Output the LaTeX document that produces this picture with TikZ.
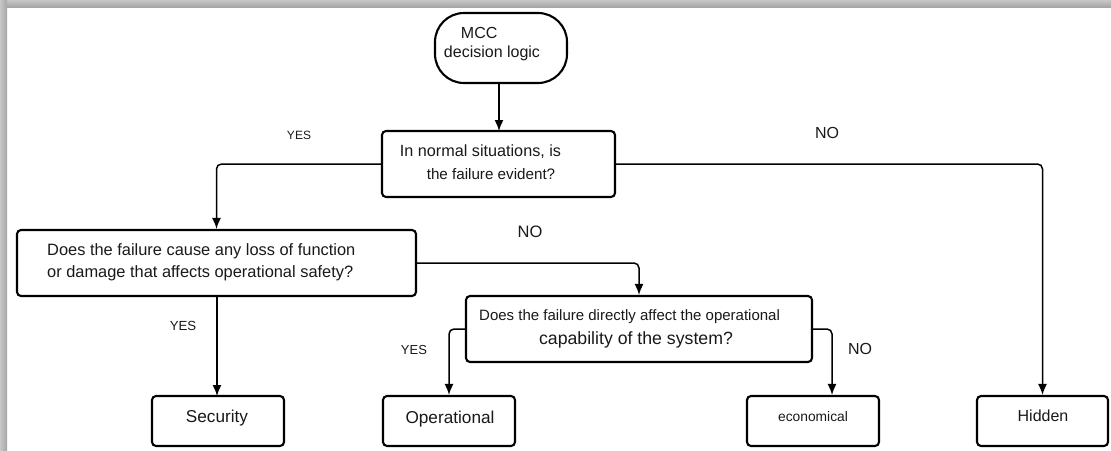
\documentclass[tikz,border=0pt]{standalone}
\usepackage{fontspec}
\setmainfont{Liberation Sans}
\usetikzlibrary{arrows.meta}

\newcommand{\fsz}[1]{\fontsize{#1pt}{#1pt}\selectfont}

\tikzset{
  box/.style={draw, line width=2.1pt, rounded corners=4pt, inner sep=0pt},
  txt/.style={inner sep=0pt, text=black!90},
  conn/.style={line width=1.5pt, rounded corners=5pt,
               -{Latex[length=11pt,width=9pt]}},
  lbl/.style={inner sep=0pt, text=black!90},
}

\begin{document}
\begin{tikzpicture}[x=1pt,y=-1pt]
\useasboundingbox (0,0) rectangle (1111,450);
\fill[white] (0,0) rectangle (1111,450);

% frame shadow along the top and left edges
\shade[top color=black!22, bottom color=black!35] (0,0) rectangle (1111,7);
\shade[left color=black!22, right color=black!35] (0,0) rectangle (7,450);

% start terminal
\node[box, rounded corners=29pt, minimum width=132pt, minimum height=70pt] (mcc) at (501,48) {};
\node[txt, align=left, font=\fsz{16}] (mcctext) at (492,44) {\hspace*{17pt}MCC\\[3pt]decision logic};

% question boxes
\node[box, minimum width=233pt, minimum height=66pt] (q1) at (498.5,164) {};
\node[txt, font=\fsz{16.2}] (q1a) at (480.5,152) {In normal situations, is};
\node[txt, font=\fsz{15.2}] (q1b) at (491,174) {the failure evident?};

\node[box, minimum width=399pt, minimum height=66pt] (q2) at (216.5,263) {};
\node[txt, anchor=west, font=\fsz{16.4}] (q2a) at (47,251) {Does the failure cause any loss of function};
\node[txt, anchor=west, font=\fsz{16.4}] (q2b) at (47,273) {or damage that affects operational safety?};

\node[box, minimum width=346pt, minimum height=66pt] (q3) at (639,329) {};
\node[txt, anchor=west, font=\fsz{15}] (q3a) at (479,317) {Does the failure directly affect the operational};
\node[txt, font=\fsz{17.7}] (q3b) at (636,340) {capability of the system?};

% outcome boxes
\node[box, minimum width=132pt, minimum height=50pt] (sec) at (218,421) {};
\node[txt, font=\fsz{17.2}] (sectext) at (217,418) {Security};

\node[box, minimum width=132pt, minimum height=50pt] (ope) at (449,421) {};
\node[txt, font=\fsz{17.2}] (opetext) at (450,419) {Operational};

\node[box, minimum width=132pt, minimum height=50pt] (eco) at (813,421) {};
\node[txt, font=\fsz{13.8}] (ecotext) at (813,417) {economical};

\node[box, minimum width=131pt, minimum height=50pt] (hid) at (1042.5,421) {};
\node[txt, font=\fsz{16}] (hidtext) at (1043,416) {Hidden};

% connectors
\draw[conn] (mcc.south -| 499,0) -- (499,131);
\draw[conn] (q1.west) -| (q2.north);
\draw[conn] (q1.east) -| (hid.north);
\draw[conn] (q2.east) -| (q3.north);
\draw[conn] (q2.south -| 217,0) -- (217,396);
\draw[conn] (q3.west) -| (ope.north);
\draw[conn] (q3.east) -| ([xshift=19pt]eco.north);

% branch labels
\node[lbl, font=\fsz{12}] (yes1) at (299,135) {YES};
\node[lbl, font=\fsz{16}] (no1) at (827,133) {NO};
\node[lbl, font=\fsz{16.5}] (no2) at (530,232) {NO};
\node[lbl, font=\fsz{13.2}] (yes2) at (183,326) {YES};
\node[lbl, font=\fsz{13}] (yes3) at (414,350) {YES};
\node[lbl, font=\fsz{16}] (no3) at (860,349) {NO};
\end{tikzpicture}
\end{document}
